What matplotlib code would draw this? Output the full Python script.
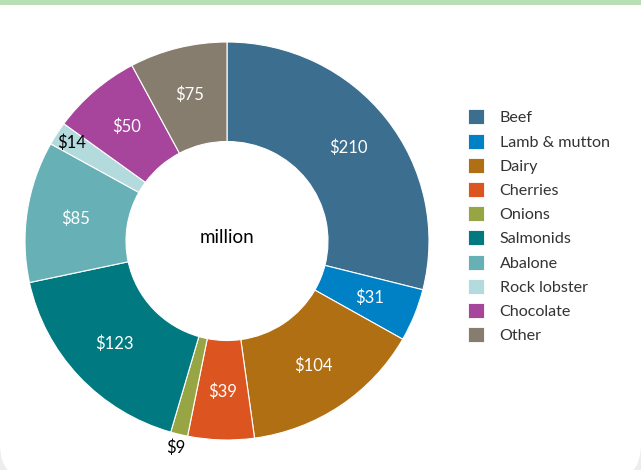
import matplotlib
matplotlib.use('Agg')
import matplotlib.pyplot as plt
from matplotlib.patches import Rectangle, FancyBboxPatch
from matplotlib.transforms import IdentityTransform
import numpy as np

# export values, $ million
categories = ['Beef', 'Lamb & mutton', 'Dairy', 'Cherries', 'Onions', 'Salmonids',
              'Abalone', 'Rock lobster', 'Chocolate', 'Other']
values = [210, 31, 106, 38.5, 9.9, 124.5, 83.2, 13.9, 52, 56.6]
# printed labels
value_labels = ['$210', '$31', '$104', '$39', '$9', '$123', '$85', '$14', '$50', '$75']
colors = ['#3c6e8f', '#0081c6', '#b06f12', '#dc5521', '#97a545', '#007a80',
          '#67b1b6', '#b3dadd', '#a6459b', '#877d6e']
center_text = 'million'

# slices whose label sits outside / in dark text
outside = {'Onions': 1.07, 'Rock lobster': 0.915}

plt.rcParams['font.family'] = ['Lato', 'DejaVu Sans']

W, H = 641, 470
fig = plt.figure(figsize=(W / 100, H / 100), dpi=100, facecolor='#efedea')

# white card with rounded corners + green band on top
fig.patches.append(FancyBboxPatch((0, -12), W, H + 40, boxstyle='round,pad=0,rounding_size=38',
                                  transform=IdentityTransform(), facecolor='white',
                                  edgecolor='none', zorder=-3))
fig.patches.append(Rectangle((0, H - 5), W, 5, transform=IdentityTransform(),
                             facecolor='#b8e0b4', edgecolor='none', zorder=-2))

cx, cy, rx, ry = 227, 229, 202, 199
ax = fig.add_axes([(cx - rx) / W, (cy - ry) / H, 2 * rx / W, 2 * ry / H])
wedges, texts = ax.pie(values, colors=colors, startangle=90, counterclock=False,
                       radius=1, labels=value_labels, labeldistance=0.76,
                       wedgeprops=dict(width=0.5, edgecolor='white', linewidth=0.8),
                       textprops=dict(color='white', fontsize=12, ha='center', va='center'))
for cat, w, t in zip(categories, wedges, texts):
    if cat in outside:
        ang = np.deg2rad((w.theta1 + w.theta2) / 2)
        r = outside[cat]
        t.set_position((r * np.cos(ang), r * np.sin(ang)))
        t.set_color('black')
ax.set_xlim(-1, 1)
ax.set_ylim(-1, 1)
ax.set_aspect('auto')
ax.axis('off')
ax.text(0, 0.02, center_text, ha='center', va='center', fontsize=13.5, color='black')

handles = [Rectangle((0, 0), 1, 1, facecolor=c, edgecolor='white', linewidth=0.6) for c in colors]
fig.legend(handles, categories, loc='upper left', bbox_to_anchor=(453 / W, 1 - 95 / H),
           frameon=False, fontsize=11.6, handlelength=1.05, handleheight=1.05,
           labelspacing=0.51, handletextpad=0.95, labelcolor='#333333')

fig.savefig('out.png', dpi=100, facecolor=fig.get_facecolor())
